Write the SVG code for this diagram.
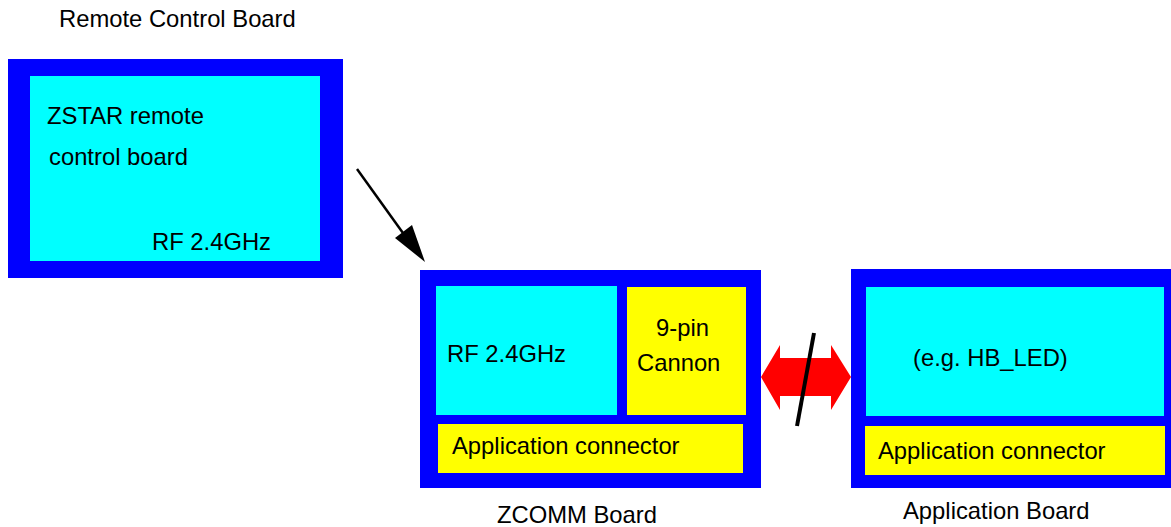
<svg xmlns="http://www.w3.org/2000/svg" width="1171" height="527" viewBox="0 0 1171 527">
<style>
.board{fill:#0000ff}
.cyan{fill:#00ffff}
.yel{fill:#ffff00}
text{font-family:"Liberation Sans",Arial,sans-serif;font-size:23.8px;fill:#000}
</style>
<rect width="1171" height="527" fill="#fff"/>
<g id="remote">
<text x="59" y="27">Remote Control Board</text>
<rect class="board" x="8" y="59" width="335" height="219"/>
<rect class="cyan" x="30" y="76" width="290" height="185"/>
<text x="47" y="124">ZSTAR remote</text>
<text x="49" y="165">control board</text>
<text x="152" y="250">RF 2.4GHz</text>
</g>
<g id="zcomm">
<rect class="board" x="420" y="270" width="341" height="218"/>
<rect class="cyan" x="436" y="286" width="181" height="129"/>
<rect class="yel" x="627" y="287" width="119" height="128"/>
<rect class="yel" x="438" y="424" width="305" height="49"/>
<text x="447" y="362">RF 2.4GHz</text>
<text x="656" y="336">9-pin</text>
<text x="637" y="371">Cannon</text>
<text x="452" y="454">Application connector</text>
<text x="497" y="523">ZCOMM Board</text>
</g>
<g id="appboard">
<rect class="board" x="851" y="269" width="330" height="219"/>
<rect class="cyan" x="866" y="287" width="298" height="129"/>
<rect class="yel" x="865" y="426" width="300" height="49"/>
<text x="913" y="366">(e.g. HB_LED)</text>
<text x="878" y="459">Application connector</text>
<text x="903" y="519">Application Board</text>
</g>
<g id="connectors">
<path d="M357,169 L408,240" stroke="#000" stroke-width="2.5" fill="none"/>
<path d="M425,262 L395,238 L412,225 z" fill="#000"/>
<path d="M761,377 L780,345 L780,358 L831,358 L831,345 L851,377 L831,410 L831,396 L780,396 L780,410 z" fill="#ff0000"/>
<path d="M814,333 L797,426" stroke="#000" stroke-width="4" fill="none"/>
</g>
</svg>
